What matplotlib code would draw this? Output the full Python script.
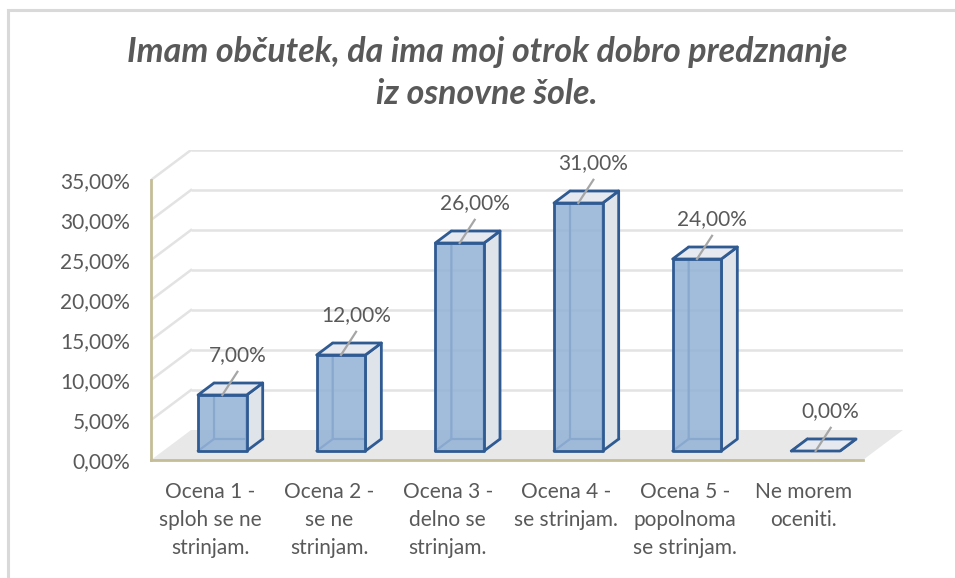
import matplotlib
matplotlib.use("Agg")
import matplotlib.pyplot as plt
from matplotlib.patches import Polygon, Rectangle

plt.rcParams['font.family'] = ['Lato', 'DejaVu Sans']

# --- data -------------------------------------------------------------
title = "Imam občutek, da ima moj otrok dobro predznanje\niz osnovne šole."
categories = [
    "Ocena 1 -\nsploh se ne\nstrinjam.",
    "Ocena 2 -\nse ne\nstrinjam.",
    "Ocena 3 -\ndelno se\nstrinjam.",
    "Ocena 4 -\nse strinjam.",
    "Ocena 5 -\npopolnoma\nse strinjam.",
    "Ne morem\noceniti.",
]
values = [7.0, 12.0, 26.0, 31.0, 24.0, 0.0]   # percent
y_ticks = [0, 5, 10, 15, 20, 25, 30, 35]
y_max = 35

# --- styling / 3D projection parameters ---------------------------------
DX = 0.3376        # depth offset along x (category units)
DY = 3.75          # depth offset along y (percentage points)
BAR_W = 0.41       # width of a bar's front face
D0, D1 = 0.3, 0.7  # bar occupies this slice of the depth

TEXT = "#595959"
AXIS = "#c4bd97"
GRID = "#e3e3e3"
FLOOR = "#e8e8e8"
FRONT = "#95b3d7"
EDGE = "#2f5b92"
SIDE = "#dfe3ea"
TOP = "#e6e9ef"
FS = 15

fig = plt.figure(figsize=(9.55, 5.78), dpi=100)
W, H = 955, 578

# outer chart frame
fig.patches.append(Rectangle((8 / W, -0.1), 1.2, (H - 10) / H + 0.1,
                             transform=fig.transFigure, fill=False,
                             ec="#d9d9d9", lw=2.2, zorder=0))

ax = fig.add_axes([151 / W, (H - 460) / H, (903 - 151) / W, (460 - 150) / H])
n = len(categories)
ax.set_xlim(-0.5, n - 0.5 + DX)
ax.set_ylim(0, y_max + DY)
ax.patch.set_visible(False)

# floor
ax.add_patch(Polygon([(-0.5, 0), (n - 0.5, 0), (n - 0.5 + DX, DY), (-0.5 + DX, DY)],
                     closed=True, fc=FLOOR, ec="none", zorder=1))

# back-wall gridlines and side-wall diagonals
for v in y_ticks[1:]:
    ax.plot([-0.5 + DX, n - 0.5 + DX], [v + DY, v + DY], color=GRID, lw=1.8,
            zorder=0.5, solid_capstyle="butt")
    ax.plot([-0.5, -0.5 + DX], [v, v + DY], color=GRID, lw=1.8, zorder=0.5)

# bars as oblique boxes
for i, v in enumerate(values):
    fx0 = i - BAR_W / 2 + D0 * DX
    fx1 = i + BAR_W / 2 + D0 * DX
    fy0 = D0 * DY
    bx0 = i - BAR_W / 2 + D1 * DX
    bx1 = i + BAR_W / 2 + D1 * DX
    by0 = D1 * DY
    z = 3 + i * 0.1
    # hidden edges (seen through the translucent front)
    ax.plot([fx0, bx0, bx0], [fy0, by0, by0 + v], color=EDGE, lw=1.6, zorder=z)
    ax.plot([bx0, bx1], [by0, by0], color=EDGE, lw=1.6, zorder=z)
    # right side
    ax.add_patch(Polygon([(fx1, fy0), (bx1, by0), (bx1, by0 + v), (fx1, fy0 + v)],
                         closed=True, fc=SIDE, ec=EDGE, lw=2, zorder=z + 0.01,
                         joinstyle="round"))
    # top
    ax.add_patch(Polygon([(fx0, fy0 + v), (fx1, fy0 + v), (bx1, by0 + v), (bx0, by0 + v)],
                         closed=True, fc=TOP, ec=EDGE, lw=2, zorder=z + 0.02,
                         joinstyle="round"))
    # front face
    if v > 0:
        ax.add_patch(Rectangle((fx0, fy0), fx1 - fx0, v, fc=FRONT, alpha=0.88,
                               ec="none", zorder=z + 0.03))
        ax.add_patch(Rectangle((fx0, fy0), fx1 - fx0, v, fill=False,
                               ec=EDGE, lw=2, zorder=z + 0.04, joinstyle="round"))

    # data label with leader line
    cx = i + D0 * DX
    top = fy0 + v
    lx, ly = cx + 0.127, top + 5.0
    ax.plot([lx, cx], [ly - 2.1, top], color="#a6a6a6", lw=1.6, zorder=z + 0.05)
    ax.text(lx, ly, f"{v:.2f}%".replace(".", ","), ha="center", va="center",
            fontsize=FS, color=TEXT, zorder=10)

# axes
for s in ("top", "right"):
    ax.spines[s].set_visible(False)
ax.spines["left"].set_bounds(0, y_max)
ax.spines["bottom"].set_bounds(-0.5, n - 0.5)
for s in ("left", "bottom"):
    ax.spines[s].set_color(AXIS)
    ax.spines[s].set_linewidth(2)
    ax.spines[s].set_zorder(2)

ax.set_yticks(y_ticks)
ax.set_yticklabels([f"{t:.2f}%".replace(".", ",") for t in y_ticks])
ax.set_xticks(range(n))
ax.set_xticklabels(categories, linespacing=1.5)
ax.tick_params(axis="y", length=0, pad=15, labelsize=FS, labelcolor=TEXT)
ax.tick_params(axis="x", length=0, pad=16, labelsize=FS, labelcolor=TEXT)

fig.text(487 / W, 1 - 73 / H, title, ha="center", va="center", fontsize=24.5,
         fontweight="bold", fontstyle="italic", color=TEXT, linespacing=1.4)

fig.savefig("out.png", dpi=100)
